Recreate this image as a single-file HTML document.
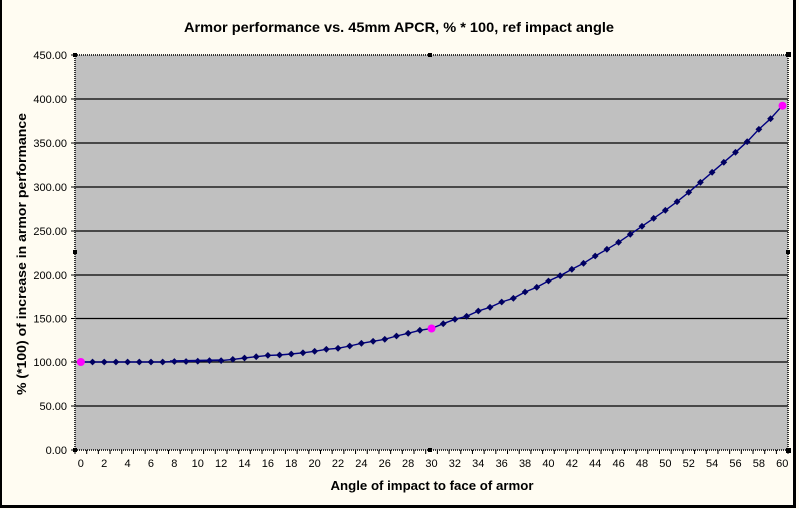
<!DOCTYPE html>
<html><head><meta charset="utf-8"><style>
html,body{margin:0;padding:0;background:#FFFCF2;}
svg{display:block;}
text{font-family:"Liberation Sans",Arial,sans-serif;fill:#000;}
</style></head><body>
<svg width="799" height="509" viewBox="0 0 799 509" xmlns="http://www.w3.org/2000/svg">
<defs>
<marker id="dm" markerUnits="userSpaceOnUse" markerWidth="8" markerHeight="8" refX="4" refY="4" viewBox="0 0 8 8">
<path d="M4 0.6 L7.4 4 L4 7.4 L0.6 4 Z" fill="#000060"/>
</marker>
</defs>
<rect x="0" y="0" width="799" height="509" fill="#FFFCF2"/>
<!-- outer border -->
<rect x="0" y="0" width="2" height="508" fill="#000"/>
<rect x="793" y="0" width="3" height="508" fill="#000"/>
<rect x="0" y="505" width="796" height="3" fill="#000"/>

<text x="399" y="32" font-size="14" font-weight="bold" text-anchor="middle" textLength="430" lengthAdjust="spacingAndGlyphs">Armor performance vs. 45mm APCR, % * 100, ref impact angle</text>

<!-- plot area -->
<rect x="75" y="55" width="713" height="395" fill="#C0C0C0"/>
<g stroke="#000" stroke-width="1.3">
<line x1="75" y1="99" x2="788" y2="99"/>
<line x1="75" y1="143" x2="788" y2="143"/>
<line x1="75" y1="187" x2="788" y2="187"/>
<line x1="75" y1="231" x2="788" y2="231"/>
<line x1="75" y1="275" x2="788" y2="275"/>
<line x1="75" y1="318.5" x2="788" y2="318.5"/>
<line x1="75" y1="362" x2="788" y2="362"/>
<line x1="75" y1="406" x2="788" y2="406"/>
</g>
<rect x="75" y="55" width="713" height="395" fill="none" stroke="#333" stroke-width="2" stroke-dasharray="1 1"/>

<!-- y ticks -->
<g stroke="#000" stroke-width="1">
<line x1="71" y1="55" x2="75" y2="55"/><line x1="71" y1="99" x2="75" y2="99"/><line x1="71" y1="143" x2="75" y2="143"/><line x1="71" y1="187" x2="75" y2="187"/><line x1="71" y1="231" x2="75" y2="231"/><line x1="71" y1="275" x2="75" y2="275"/><line x1="71" y1="318.5" x2="75" y2="318.5"/><line x1="71" y1="362" x2="75" y2="362"/><line x1="71" y1="406" x2="75" y2="406"/><line x1="71" y1="450" x2="75" y2="450"/>
</g>
<g font-size="11" text-anchor="end">
<text x="67" y="59">450.00</text>
<text x="67" y="103">400.00</text>
<text x="67" y="147">350.00</text>
<text x="67" y="191">300.00</text>
<text x="67" y="235">250.00</text>
<text x="67" y="279">200.00</text>
<text x="67" y="322.5">150.00</text>
<text x="67" y="366">100.00</text>
<text x="67" y="410">50.00</text>
<text x="67" y="454">0.00</text>
</g>

<!-- x ticks -->
<path d="M75 450v4M86.69 450v4M98.38 450v4M110.07 450v4M121.76 450v4M133.45 450v4M145.14 450v4M156.83 450v4M168.52 450v4M180.21 450v4M191.9 450v4M203.59 450v4M215.28 450v4M226.97 450v4M238.66 450v4M250.35 450v4M262.04 450v4M273.73 450v4M285.42 450v4M297.11 450v4M308.8 450v4M320.49 450v4M332.18 450v4M343.87 450v4M355.56 450v4M367.25 450v4M378.94 450v4M390.63 450v4M402.32 450v4M414.01 450v4M425.7 450v4M437.39 450v4M449.08 450v4M460.77 450v4M472.46 450v4M484.15 450v4M495.84 450v4M507.53 450v4M519.22 450v4M530.91 450v4M542.6 450v4M554.29 450v4M565.98 450v4M577.67 450v4M589.36 450v4M601.05 450v4M612.74 450v4M624.43 450v4M636.12 450v4M647.81 450v4M659.5 450v4M671.19 450v4M682.88 450v4M694.57 450v4M706.26 450v4M717.95 450v4M729.64 450v4M741.33 450v4M753.02 450v4M764.71 450v4M776.4 450v4M788 450v4" stroke="#000" stroke-width="1"/>
<g font-size="11" text-anchor="middle">
<text x="80.85" y="467">0</text><text x="104.23" y="467">2</text><text x="127.61" y="467">4</text><text x="150.99" y="467">6</text><text x="174.37" y="467">8</text><text x="197.75" y="467">10</text><text x="221.13" y="467">12</text><text x="244.51" y="467">14</text><text x="267.89" y="467">16</text><text x="291.27" y="467">18</text><text x="314.65" y="467">20</text><text x="338.03" y="467">22</text><text x="361.41" y="467">24</text><text x="384.79" y="467">26</text><text x="408.17" y="467">28</text><text x="431.55" y="467">30</text><text x="454.93" y="467">32</text><text x="478.31" y="467">34</text><text x="501.69" y="467">36</text><text x="525.07" y="467">38</text><text x="548.45" y="467">40</text><text x="571.83" y="467">42</text><text x="595.21" y="467">44</text><text x="618.59" y="467">46</text><text x="641.97" y="467">48</text><text x="665.35" y="467">50</text><text x="688.73" y="467">52</text><text x="712.11" y="467">54</text><text x="735.49" y="467">56</text><text x="758.87" y="467">58</text><text x="782.25" y="467">60</text>
</g>

<text x="432" y="490" font-size="13" font-weight="bold" text-anchor="middle" textLength="203" lengthAdjust="spacingAndGlyphs">Angle of impact to face of armor</text>
<text transform="translate(26,254) rotate(-90)" font-size="13" font-weight="bold" text-anchor="middle" textLength="282" lengthAdjust="spacingAndGlyphs">% (*100) of increase in armor performance</text>

<!-- series -->
<polyline fill="none" stroke="#000080" stroke-width="1.4" marker-start="url(#dm)" marker-mid="url(#dm)" marker-end="url(#dm)" points="80.85,362 92.54,362 104.23,362 115.92,362 127.61,362 139.3,362 150.99,362 162.68,362 174.37,361.5 186.06,361.5 197.75,361.2 209.44,360.6 221.13,360.6 232.82,359.4 244.51,358 256.2,356.7 267.89,355.4 279.58,355 291.27,354 302.96,352.8 314.65,351.3 326.34,349.3 338.03,348.3 349.72,346 361.41,343.3 373.1,341.3 384.79,339.3 396.48,336 408.17,333.3 419.86,330.3 431.55,328.5 443.24,323.7 454.93,319.3 466.62,316.3 478.31,311 490,307.3 501.69,302 513.38,298.3 525.07,292 536.76,287.3 548.45,281 560.14,275.7 571.83,269.3 583.52,263.3 595.21,256 606.9,249.3 618.59,242.3 630.28,234.3 641.97,226.3 653.66,218.3 665.35,210.3 677.04,201.7 688.73,192.3 700.42,182.3 712.11,172.3 723.8,162.3 735.49,152.3 747.18,141.7 758.87,129.3 770.56,118.7 782.25,105.7"/>
<line x1="170" y1="360.8" x2="222" y2="359.8" stroke="#000080" stroke-width="1.2"/>

<!-- pink points -->
<circle cx="80.85" cy="362" r="4" fill="#FF00FF"/>
<circle cx="431.55" cy="328.5" r="4" fill="#FF00FF"/>
<circle cx="782.5" cy="105.7" r="4" fill="#FF00FF"/>

<!-- selection handles -->
<g fill="#000">
<rect x="73" y="53" width="4" height="4"/>
<rect x="428" y="53" width="4" height="4"/>
<rect x="786" y="52" width="5" height="5"/>
<rect x="73" y="250" width="4" height="4"/>
<rect x="786" y="250" width="4" height="4"/>
<rect x="73" y="448" width="4" height="4"/>
<rect x="428" y="448" width="4" height="4"/>
<rect x="786" y="448" width="5" height="5"/>
</g>
</svg>
</body></html>
